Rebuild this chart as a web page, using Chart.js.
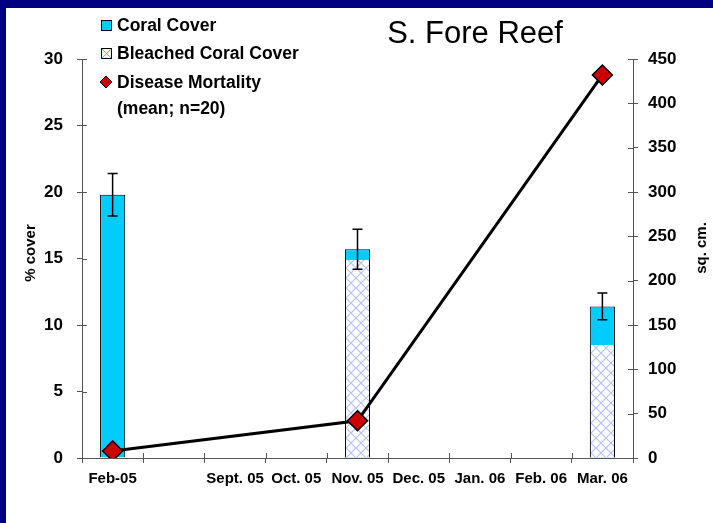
<!DOCTYPE html>
<html>

<head>
    <title>S. Fore Reef</title>
    <script src="https://cdn.jsdelivr.net/npm/chart.js@4"></script>
    <style>
        body { margin: 0; background: #000080; }
        #wrap { position: absolute; left: 6px; top: 8px; width: 707px; height: 515px; background: #fff; }
    </style>
</head>

<body>
    <div id="wrap"><canvas id="chart" width="707" height="515"></canvas></div>
    <script>
        // values
        const months = ['Feb-05', '', 'Sept. 05', 'Oct. 05', 'Nov. 05', 'Dec. 05', 'Jan. 06', 'Feb. 06', 'Mar. 06'];
        const coralCover = [19.8, null, null, null, 15.7, null, null, null, 11.4];
        const coralErr = [1.6, null, null, null, 1.5, null, null, null, 1.0];
        const bleached = [0, null, null, null, 14.9, null, null, null, 8.5];
        const mortality = [8, null, null, null, 42, null, null, null, 432];
        const leftTicks = [0, 5, 10, 15, 20, 25, 30];
        const rightTicks = [0, 50, 100, 150, 200, 250, 300, 350, 400, 450];

        const FONT = "'Liberation Sans', Arial, sans-serif";
        const CYAN = '#00ccff';
        const AXIS = '#555';

        // light blue cross hatch for bleached cover
        const makeHatch = () => {
            const c = document.createElement('canvas');
            c.width = 10; c.height = 10;
            const g = c.getContext('2d');
            g.fillStyle = '#fff';
            g.fillRect(0, 0, 10, 10);
            g.strokeStyle = '#b8c0fa';
            g.lineWidth = 1.2;
            g.beginPath();
            g.moveTo(0, 0); g.lineTo(10, 10);
            g.moveTo(10, 0); g.lineTo(0, 10);
            g.stroke();
            return g.createPattern(c, 'repeat');
        };
        const hatch = makeHatch();

        const decor = {
            id: 'decor',
            afterDatasetsDraw(chart) {
                const ctx = chart.ctx;
                const y = chart.scales.y;
                const meta = chart.getDatasetMeta(2);
                ctx.save();
                ctx.strokeStyle = '#000';
                ctx.lineWidth = 1.5;
                coralCover.forEach((v, i) => {
                    if (v === null || coralErr[i] === null) return;
                    const x = meta.data[i].x;
                    const t = y.getPixelForValue(v + coralErr[i]);
                    const b = y.getPixelForValue(v - coralErr[i]);
                    ctx.beginPath();
                    ctx.moveTo(x, t); ctx.lineTo(x, b);
                    ctx.moveTo(x - 5, t); ctx.lineTo(x + 5, t);
                    ctx.moveTo(x - 5, b); ctx.lineTo(x + 5, b);
                    ctx.stroke();
                });
                ctx.restore();
            },
            afterDraw(chart) {
                const ctx = chart.ctx;
                const { left, right, bottom } = chart.chartArea;
                ctx.save();

                // inner halves of the tick marks
                ctx.strokeStyle = AXIS;
                ctx.lineWidth = 1;
                ctx.beginPath();
                chart.scales.y.ticks.forEach(t => {
                    const p = Math.round(chart.scales.y.getPixelForValue(t.value)) + 0.5;
                    ctx.moveTo(left, p); ctx.lineTo(left + 5, p);
                });
                chart.scales.y1.ticks.forEach(t => {
                    const p = Math.round(chart.scales.y1.getPixelForValue(t.value)) + 0.5;
                    ctx.moveTo(right - 5, p); ctx.lineTo(right, p);
                });
                const xs = chart.scales.x;
                for (let i = 0; i <= months.length; i++) {
                    const p = Math.round(xs.left + i * xs.width / months.length) + 0.5;
                    ctx.moveTo(p, bottom); ctx.lineTo(p, bottom - 5);
                }
                ctx.stroke();

                // title
                ctx.fillStyle = '#000';
                ctx.textAlign = 'center';
                ctx.textBaseline = 'middle';
                ctx.font = '31px ' + FONT;
                ctx.fillText('S. Fore Reef', 469, 26);

                // axis titles
                ctx.font = 'bold 15px ' + FONT;
                ctx.save();
                ctx.translate(25, 245);
                ctx.rotate(-Math.PI / 2);
                ctx.fillText('% cover', 0, 0);
                ctx.restore();
                ctx.save();
                ctx.translate(696, 240);
                ctx.rotate(-Math.PI / 2);
                ctx.fillText('sq. cm.', 0, 0);
                ctx.restore();

                // legend
                ctx.textAlign = 'left';
                ctx.font = 'bold 17.5px ' + FONT;
                ctx.lineWidth = 1;
                ctx.strokeStyle = '#000';
                ctx.fillStyle = CYAN;
                ctx.fillRect(95, 12, 10, 10);
                ctx.strokeRect(95.5, 12.5, 10, 10);
                ctx.fillStyle = '#fff';
                ctx.fillRect(95, 40, 10, 10);
                ctx.strokeStyle = '#44ccff';
                ctx.beginPath();
                ctx.moveTo(96, 41); ctx.lineTo(105, 50);
                ctx.moveTo(105, 41); ctx.lineTo(96, 50);
                ctx.stroke();
                ctx.strokeStyle = '#000';
                ctx.strokeRect(95.5, 40.5, 10, 10);
                ctx.fillStyle = '#cc0000';
                ctx.beginPath();
                ctx.moveTo(100, 68); ctx.lineTo(106, 74); ctx.lineTo(100, 80); ctx.lineTo(94, 74);
                ctx.closePath();
                ctx.fill(); ctx.stroke();
                ctx.fillStyle = '#000';
                ctx.fillText('Coral Cover', 111, 18);
                ctx.fillText('Bleached Coral Cover', 111, 46);
                ctx.fillText('Disease Mortality', 111, 75);
                ctx.fillText('(mean; n=20)', 111, 101);
                ctx.restore();
            }
        };

        const tickFont = { family: FONT, size: 17, weight: 'bold' };

        new Chart(document.getElementById('chart'), {
            data: {
                labels: months,
                datasets: [
                    {
                        type: 'line',
                        label: 'Disease Mortality',
                        data: mortality,
                        yAxisID: 'y1',
                        order: 0,
                        spanGaps: true,
                        borderColor: '#000',
                        borderWidth: 3,
                        pointStyle: 'rectRot',
                        pointRadius: 10,
                        pointBackgroundColor: '#cc0000',
                        pointBorderColor: '#000',
                        pointBorderWidth: 1.5,
                    },
                    {
                        type: 'bar',
                        label: 'Bleached Coral Cover',
                        data: bleached,
                        yAxisID: 'y',
                        order: 1,
                        grouped: false,
                        backgroundColor: hatch,
                        borderColor: '#000',
                        borderWidth: { left: 1, right: 1, top: 0, bottom: 0 },
                        barPercentage: 0.41,
                        categoryPercentage: 1,
                    },
                    {
                        type: 'bar',
                        label: 'Coral Cover',
                        data: coralCover,
                        yAxisID: 'y',
                        order: 2,
                        grouped: false,
                        backgroundColor: CYAN,
                        borderColor: '#000',
                        borderWidth: 1,
                        barPercentage: 0.41,
                        categoryPercentage: 1,
                    },
                ],
            },
            options: {
                responsive: false,
                animation: false,
                devicePixelRatio: 1,
                layout: { padding: { top: 51, left: 0, right: 0, bottom: 0 } },
                plugins: { legend: { display: false }, tooltip: { enabled: false } },
                scales: {
                    x: {
                        type: 'category',
                        offset: true,
                        afterFit: (s) => { s.height = 65; },
                        grid: { offset: true, drawOnChartArea: false, color: AXIS, tickLength: 5 },
                        border: { color: AXIS },
                        ticks: { font: { family: FONT, size: 15, weight: 'bold' }, color: '#000', padding: 7, autoSkip: false, maxRotation: 0 },
                    },
                    y: {
                        position: 'left',
                        min: 0, max: 30,
                        afterFit: (s) => { s.width = 76; },
                        afterBuildTicks: (s) => { s.ticks = leftTicks.map(v => ({ value: v })); },
                        grid: { drawOnChartArea: false, color: AXIS, tickLength: 5 },
                        border: { color: AXIS },
                        ticks: { font: tickFont, color: '#000', padding: 14 },
                    },
                    y1: {
                        position: 'right',
                        min: 0, max: 450,
                        afterFit: (s) => { s.width = 80; },
                        afterBuildTicks: (s) => { s.ticks = rightTicks.map(v => ({ value: v })); },
                        grid: { drawOnChartArea: false, color: AXIS, tickLength: 5 },
                        border: { color: AXIS },
                        ticks: { font: tickFont, color: '#000', padding: 10 },
                    },
                },
            },
            plugins: [decor],
        });
    </script>
</body>

</html>
